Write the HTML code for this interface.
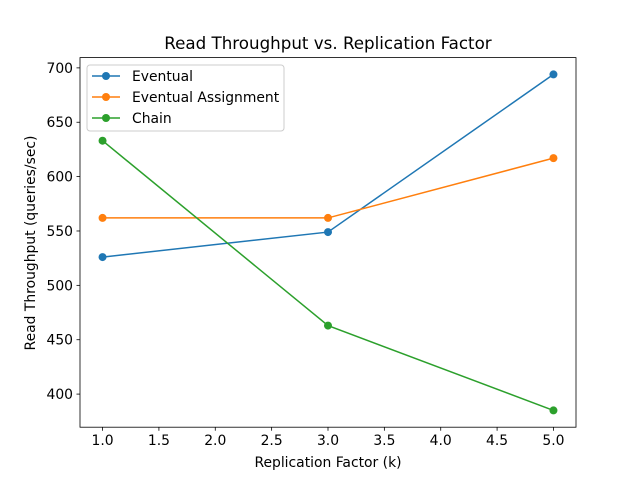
<!DOCTYPE html>
<html><head><meta charset="utf-8"><style>
body{margin:0;background:#fff;}
svg text{font-family:"DejaVu Sans","Liberation Sans",sans-serif;fill:#000;}
</style></head><body>
<svg id="chart" width="640" height="480" xmlns="http://www.w3.org/2000/svg">
<rect width="640" height="480" fill="#fff"/>
<text x="328" y="49" font-size="16.7" text-anchor="middle">Read Throughput vs. Replication Factor</text>
<text x="328" y="467" font-size="13.9" text-anchor="middle">Replication Factor (k)</text>
<text transform="translate(35,243) rotate(-90)" font-size="13.9" text-anchor="middle">Read Throughput (queries/sec)</text>
<g id="ticks"></g>
<g id="series"></g>
<rect x="80" y="57.6" width="496" height="369.6" fill="none" stroke="#000" stroke-width="0.8"/>
<g id="legend"></g>
</svg>
<script>
const categories = [1, 3, 5];
const seriesNames = ["Eventual", "Eventual Assignment", "Chain"];
const eventual = [526, 549, 694];
const eventualAssignment = [562, 562, 617];
const chain = [633, 463, 385];
const xTicks = [1.0, 1.5, 2.0, 2.5, 3.0, 3.5, 4.0, 4.5, 5.0];
const yTicks = [400, 450, 500, 550, 600, 650, 700];
const colors = ["#1f77b4", "#ff7f0e", "#2ca02c"];

const L=80,R=576,T=57.6,B=427.2;
const allX=categories, allY=eventual.concat(eventualAssignment, chain);
const xmin0=Math.min(...allX), xmax0=Math.max(...allX);
const ymin0=Math.min(...allY), ymax0=Math.max(...allY);
const xm=(xmax0-xmin0)*0.05, ym=(ymax0-ymin0)*0.05;
const xmin=xmin0-xm, xmax=xmax0+xm, ymin=ymin0-ym, ymax=ymax0+ym;
const sx=v=>L+(v-xmin)/(xmax-xmin)*(R-L);
const sy=v=>B-(v-ymin)/(ymax-ymin)*(B-T);
const NS="http://www.w3.org/2000/svg";
function mk(tag,attrs,parent){const e=document.createElementNS(NS,tag);for(const k in attrs)e.setAttribute(k,attrs[k]);parent.appendChild(e);return e;}
const tg=document.getElementById('ticks');
xTicks.forEach(t=>{
  const x=sx(t);
  const l=mk('line',{x1:x,x2:x,y1:B,y2:B+3.5,stroke:'#000','stroke-width':0.8},tg);
  
  
  const tx=mk('text',{x:x,y:B+18,'font-size':13.9,'text-anchor':'middle'},tg);
  tx.textContent=t.toFixed(1);
  
  
});
yTicks.forEach(t=>{
  const y=sy(t);
  const l=mk('line',{x1:L-3.5,x2:L,y1:y,y2:y,stroke:'#000','stroke-width':0.8},tg);
  
  
  const tx=mk('text',{x:L-7,y:y+5,'font-size':13.9,'text-anchor':'end'},tg);
  tx.textContent=t;
  
  
});
const sg=document.getElementById('series');
[eventual,eventualAssignment,chain].forEach((vals,i)=>{
  const pts=vals.map((v,j)=>sx(categories[j])+','+sy(v)).join(' ');
  const pl=mk('polyline',{points:pts,fill:'none',stroke:colors[i],'stroke-width':1.5},sg);
  
  
  vals.forEach((v,j)=>{
    const c=mk('circle',{cx:sx(categories[j]),cy:sy(v),r:4,fill:colors[i]},sg);
    
    
  });
});
const lg=document.getElementById('legend');
const box=mk('rect',{x:87,y:65,width:197,height:66,rx:3,fill:'#fff','fill-opacity':0.8,stroke:'#ccc','stroke-width':1},lg);


seriesNames.forEach((n,i)=>{
  const y=76+i*21;
  const l=mk('line',{x1:92,x2:120,y1:y,y2:y,stroke:colors[i],'stroke-width':1.5},lg);
  
  
  const c=mk('circle',{cx:106,cy:y,r:4,fill:colors[i]},lg);
  
  
  const t=mk('text',{x:132,y:y+5,'font-size':13.9},lg);
  t.textContent=n;
  
  
});
</script>
</body></html>
